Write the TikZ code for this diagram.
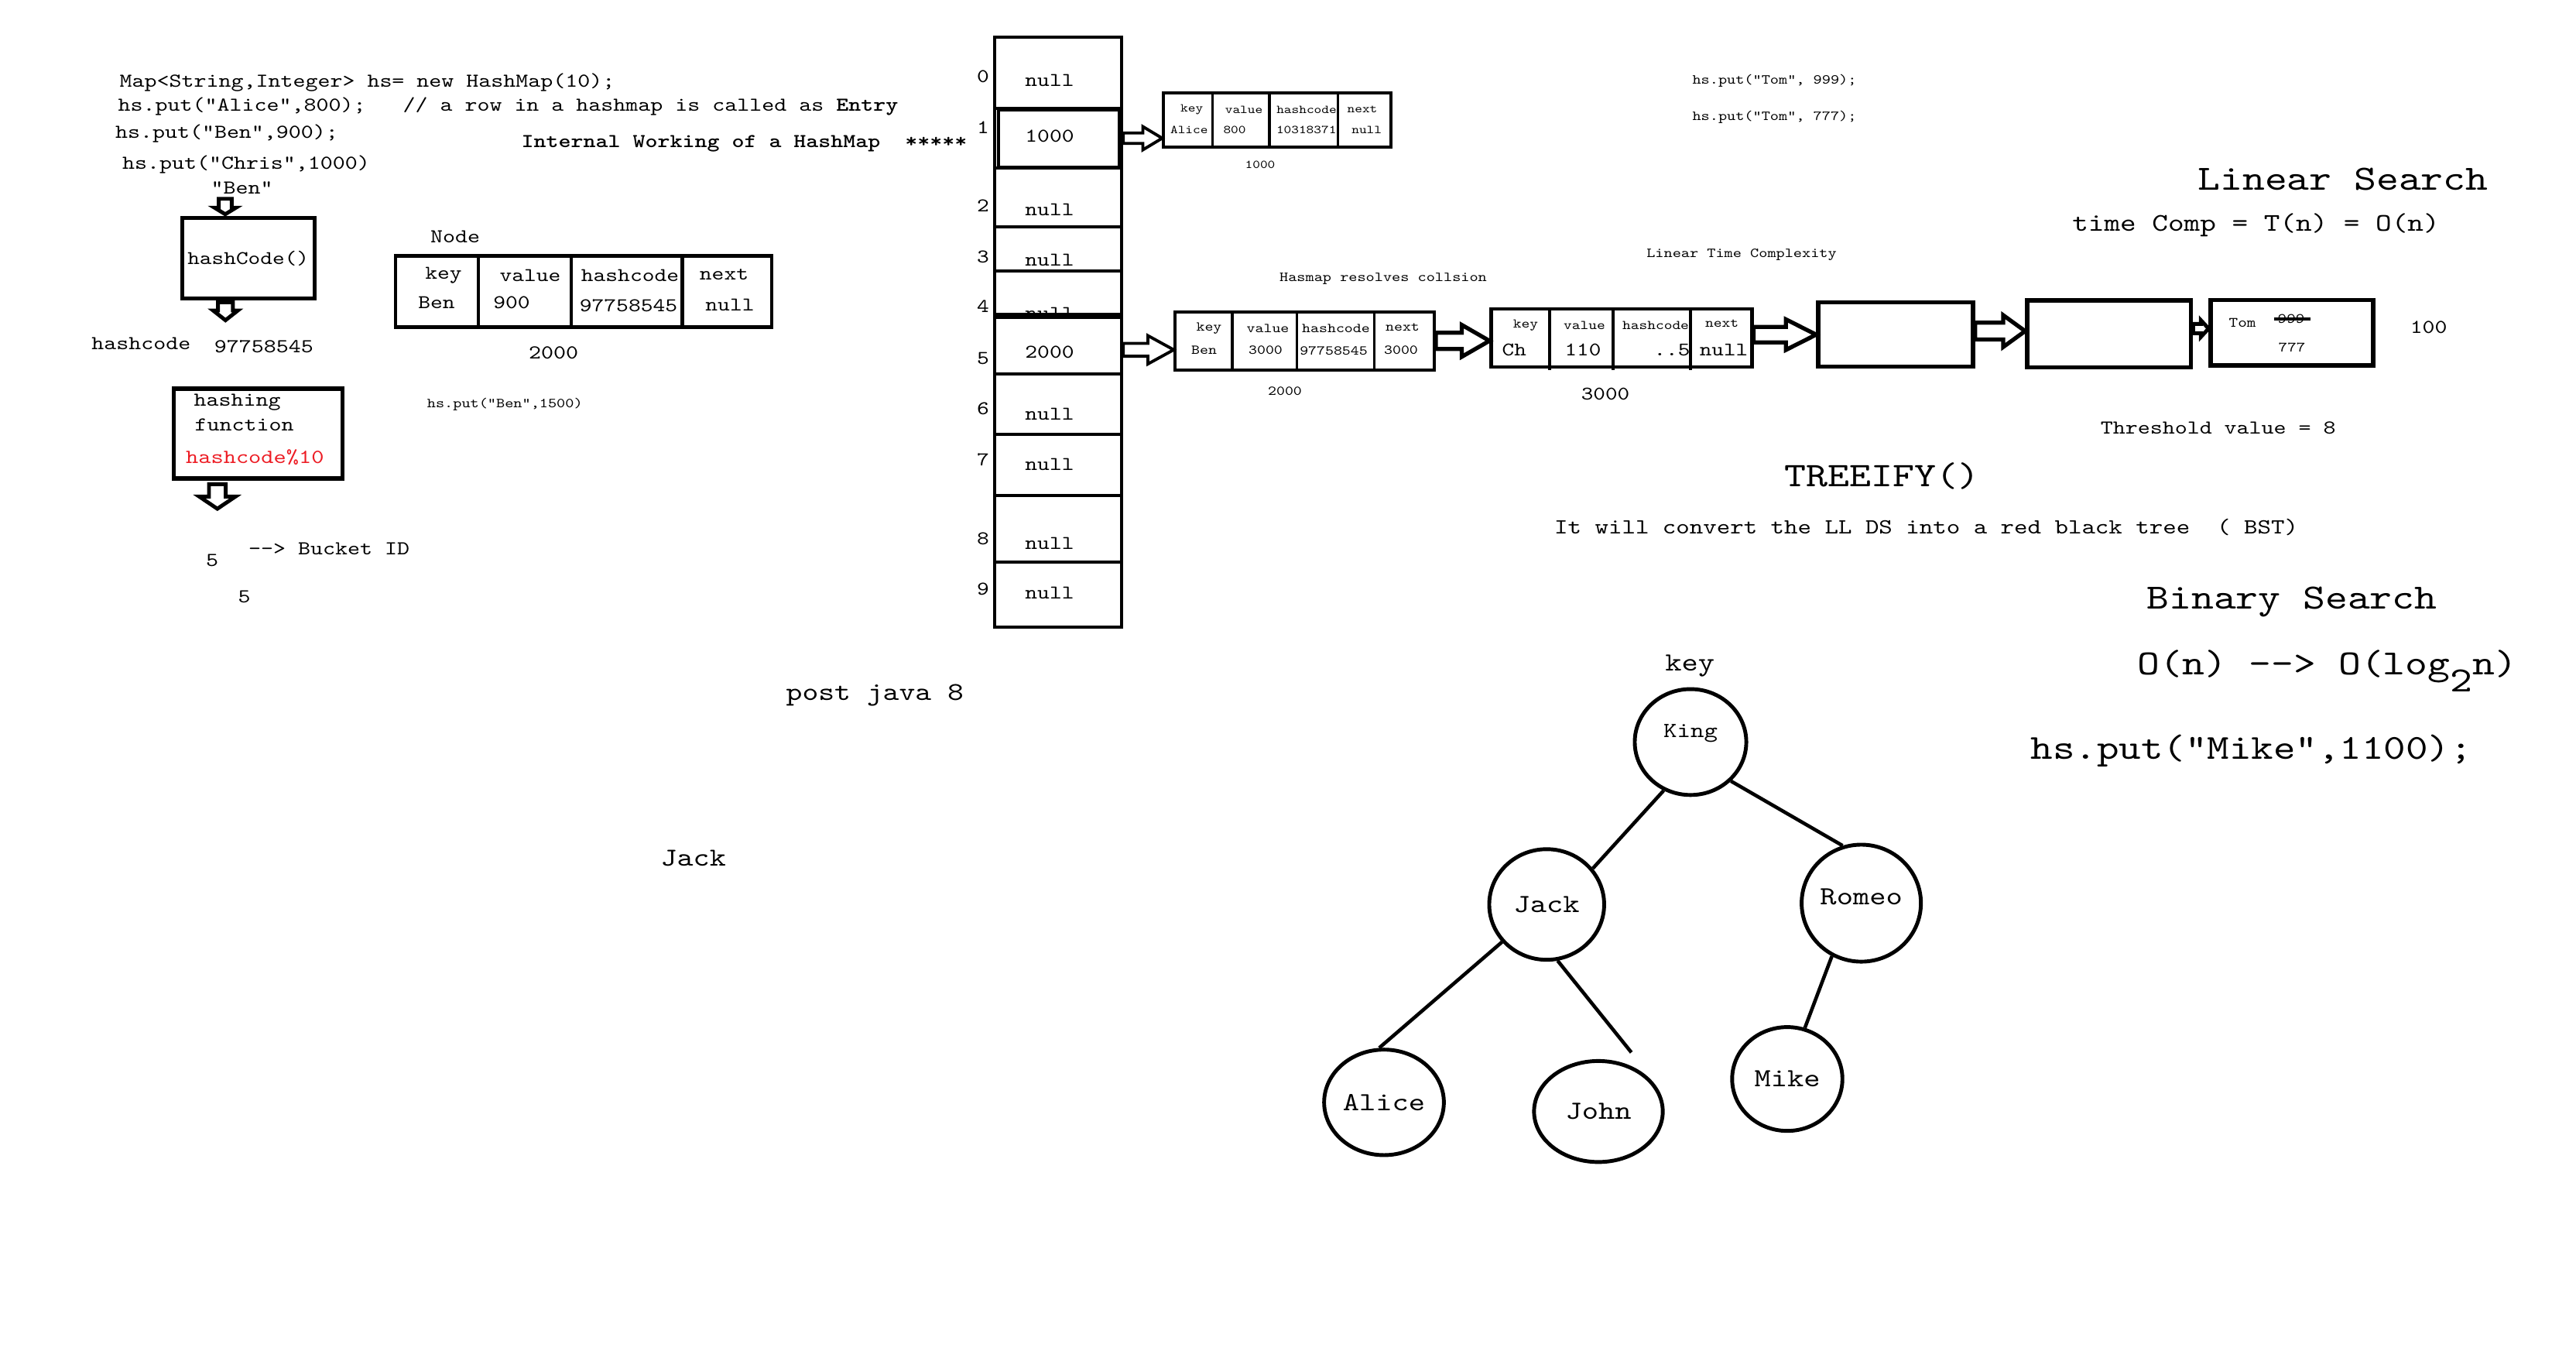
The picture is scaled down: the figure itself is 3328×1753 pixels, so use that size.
\documentclass[tikz,border=0pt]{standalone}
\usepackage{fontspec}
\setmonofont{lmmono10-regular.otf}[Scale=0.95,FakeStretch=1.2,BoldFont=lmmonolt10-bold.otf]
\usetikzlibrary{calc}
\usetikzlibrary{shapes.geometric}
\definecolor{hred}{RGB}{237,28,36}

\newcommand{\fsz}[1]{\fontsize{#1pt}{#1pt}\selectfont\ttfamily}
\newcommand{\rightfat}[6][1.5pt]{%
  \draw[line width=#1] let \p1=#2, \p2=#3 in
    (\x1,\y1+#4*0.2845pt) -- (\x2-#6*0.2845pt,\y1+#4*0.2845pt) -- (\x2-#6*0.2845pt,\y1+#5*0.2845pt)
    -- (\x2,\y1) -- (\x2-#6*0.2845pt,\y1-#5*0.2845pt) -- (\x2-#6*0.2845pt,\y1-#4*0.2845pt)
    -- (\x1,\y1-#4*0.2845pt) -- cycle;}
\newcommand{\downfat}[6][1.4pt]{%
  \draw[line width=#1] let \p1=#2, \p2=#3 in
    (\x1-#4*0.2845pt,\y1) -- (\x1-#4*0.2845pt,\y2+#6*0.2845pt) -- (\x1-#5*0.2845pt,\y2+#6*0.2845pt)
    -- (\x1,\y2) -- (\x1+#5*0.2845pt,\y2+#6*0.2845pt) -- (\x1+#4*0.2845pt,\y2+#6*0.2845pt)
    -- (\x1+#4*0.2845pt,\y1) -- cycle;}

\begin{document}
\begin{tikzpicture}[x=0.01cm,y=-0.01cm,
  every node/.style={inner sep=0pt,font=\fsz{7.6}},
  box/.style={draw,line width=1.3pt},
  tinytxt/.style={font=\fsz{4.6}},
  smalltxt/.style={font=\fsz{5.3}},
  bigtxt/.style={font=\fsz{13.7}},
  treenode/.style={ellipse,draw,line width=1.4pt,font=\fsz{10.1}},
  treeline/.style={line width=1.3pt}]
\fill[white] (0,0) rectangle (3328,1753);
\useasboundingbox (0,0) rectangle (3328,1753);

\node (code1) at (474.5,107) {Map<String,Integer> hs= new HashMap(10);};
\node (code2) at (656.5,137) {hs.put("Alice",800);\ \ \ // a row in a hashmap is called as \textbf{Entry}};
\node (code3) at (293,172) {hs.put("Ben",900);};
\node (code4) at (318,212) {hs.put("Chris",1000)};
\node (benq) at (312.7,243) {"Ben"};
\node[font=\fsz{7.6}\bfseries] (title) at (961.5,185) {Internal Working of a HashMap\ \ *****};

\node[box,line width=1.5pt,minimum width=1.71cm,minimum height=1.04cm,font=\fsz{7.45}] (hcbox) at (320.7,333.5) {hashCode()};
\node (hclab) at (182.3,444) {hashcode};
\node (hcval) at (340.8,447.5) {97758545};
\node[box,line width=1.5pt,minimum width=2.18cm,minimum height=1.16cm] (hfbox) at (333.5,560) {};
\node[anchor=west] (hf1) at (250,520) {hashing};
\node[anchor=west] (hf2) at (251,549) {function};
\node[anchor=west,text=hred,font=\fsz{7.7}] (hf3) at (239.5,590.4) {hashcode\%10};
\node (b5a) at (274,724) {5};
\node (bucketid) at (425.2,709) {-{}-> Bucket ID};
\node (b5b) at (315.6,771) {5};

\coordinate (d1a) at (291,256.7);
\coordinate (d1b) at (291,276.7);
\coordinate (d2a) at (291.3,390.4);
\coordinate (d2b) at (291.3,413.6);
\coordinate (d3a) at (280.8,625.4);
\coordinate (d3b) at (280.8,657.1);
\downfat{(d1a)}{(d1b)}{8.4}{13.75}{8.4}
\downfat{(d2a)}{(d2b)}{9.6}{16}{12.6}
\downfat{(d3a)}{(d3b)}{10.8}{23.3}{15.7}

\node (nodelab) at (588,306) {Node};
\node[box,minimum width=4.854cm,minimum height=0.92cm] (ben0) at (754,376.5) {};
\foreach \xx in {617.9,737.8,881.2}
  \draw[line width=1.3pt] (\xx,330.4) -- (\xx,425);
\foreach \t/\xx/\yy [count=\k] in {key/573/356,Ben/564/391,value/685/356,900/661/391,hashcode/814/356,97758545/812/395,next/935.5/355,null/943/394}
  \node[font=\fsz{7.5}] (nd\k) at (\xx,\yy) {\t};
\node (addr0) at (715,456) {2000};
\node[smalltxt] (put1500) at (652.3,522.5) {hs.put("Ben",1500)};

\foreach \i/\a/\b/\ty/\ly/\t in {0/48/140/104/99/null,1/140/217/176/165/1000,2/217/293/271/266/null,3/293/350/336/332/null,4/350/410/405/396/null,5/410/483/455/463/2000,6/483/561/535/528/null,7/561/640/600/594/null,8/640/726/702/696/null,9/726/810/766/761/null}{
  \node[box,fill=white,line width=1.2pt,minimum width=1.64cm,minimum height=(\b-\a)*0.01cm] (r\i) at (1367,{(\a+\b)/2}) {};
  \node[font=\fsz{7.5}] (v\i) at (1356,\ty) {\t};
  \node[font=\fsz{7.5}] (n\i) at (1270,\ly) {\i};
}
\draw[line width=1.2pt] (1290,142) rectangle (1446,216);
\draw[line width=2pt] (r5.north west) -- (r5.north east);

\node[box,line width=1pt,minimum width=2.934cm,minimum height=0.70cm] (alice) at (1650,155) {};
\foreach \xx in {1566.7,1640,1728.3}
  \draw[line width=1pt] (\xx,120) -- (\xx,190);
\foreach \t/\xx/\yy [count=\k] in {key/1539.7/142,Alice/1536.3/168,value/1607/142,800/1595/168,hashcode/1688/142,10318371/1687.7/168,next/1760/141,null/1765.7/168}
  \node[tinytxt] (na\k) at (\xx,\yy) {\t};
\node[tinytxt] (addr1) at (1628,213) {1000};

\node[smalltxt] (collision) at (1787,360) {Hasmap resolves collsion};
\node[box,line width=1.1pt,minimum width=3.346cm,minimum height=0.75cm] (ben) at (1685.7,440.2) {};
\foreach \xx in {1591.8,1675.5,1775.5}
  \draw[line width=1.1pt] (\xx,402.7) -- (\xx,480);
\foreach \t/\xx/\yy [count=\k] in {key/1562/424,Ben/1555.6/452,value/1638/424,3000/1635/452,hashcode/1726/424,97758545/1723/453,next/1812/423,3000/1810/452}
  \node[font=\fsz{5.2}] (nb\k) at (\xx,\yy) {\t};
\node[font=\fsz{5.2}] (addr2) at (1660,505) {2000};

\node[box,line width=1.2pt,minimum width=3.368cm,minimum height=0.75cm] (ch) at (2094.9,436.5) {};
\foreach \xx in {2002,2083.7,2183.7}
  \draw[line width=1.2pt] (\xx,399) -- (\xx,478);
\foreach \t/\xx/\yy [count=\k] in {key/1971/420,value/2047/420,hashcode/2139/420,next/2224.5/418}
  \node[font=\fsz{5.1}] (nc\k) at (\xx,\yy) {\t};
\node[anchor=west,font=\fsz{7.4}] (chk) at (1940,452) {Ch};
\foreach \t/\xx/\yy [count=\k] in {110/2045/452,..5/2160/452,null/2227/452}
  \node[font=\fsz{7.4}] (nv\k) at (\xx,\yy) {\t};
\node[font=\fsz{7.4}] (addr3) at (2074,509) {3000};

\node[box,line width=1.5pt,minimum width=2cm,minimum height=0.83cm] (e1) at (2449,432.2) {};
\node[box,line width=1.5pt,minimum width=2.116cm,minimum height=0.867cm] (e2) at (2724.8,431.4) {};
\node[box,line width=1.5pt,minimum width=2.1cm,minimum height=0.847cm] (tom) at (2961,429.7) {};
\node[font=\fsz{5.5}] (tomk) at (2897,417) {Tom};
\node[font=\fsz{5.5}] (tom999) at (2960,412) {999};
\draw[line width=1.3pt] ([xshift=-1pt]tom999.west) -- ([xshift=2pt]tom999.east);
\node[font=\fsz{5.5}] (tom777) at (2961,449) {777};
\node[font=\fsz{7.55}] (hundred) at (3137.6,422.5) {100};

\rightfat[1.1pt]{(r1.east)}{(alice.west)}{6.7}{15}{25}
\rightfat[1.1pt]{([yshift=-1.5pt]r5.east)}{(ben.west)}{8.3}{18.3}{33.4}
\rightfat{(ben.east)}{(ch.west)}{10.5}{20.5}{35.7}
\rightfat{(ch.east |- e1.west)}{(e1.west)}{10}{19.7}{39}
\rightfat{([yshift=1.3pt]e1.east)}{(e2.west)}{10.8}{20.5}{28.3}
\rightfat[1.4pt]{([yshift=2pt]e2.east)}{(tom.west)}{6}{10.8}{10}

\node[smalltxt] (tomput1) at (2292.5,104) {hs.put("Tom", 999);};
\node[smalltxt] (tomput2) at (2292.5,151) {hs.put("Tom", 777);};
\node[smalltxt] (lintime) at (2250,329) {Linear Time Complexity};
\node[bigtxt] (linsearch) at (3027,231) {Linear Search};
\node[font=\fsz{9.8}] (timecomp) at (2914.5,291) {time Comp = T(n) = O(n)};
\node (thresh) at (2865.7,553) {Threshold value = 8};
\node[font=\fsz{13.3}] (treeify) at (2431,615) {TREEIFY()};
\node[font=\fsz{8.3}] (convert) at (2488.6,681) {It will convert the LL DS into a red black tree\ \ ( BST)};
\node[bigtxt] (binsearch) at (2961,777) {Binary Search};
\node[bigtxt,anchor=base west] (bigo) at (2761,871) {O(n) -{}-> O(log\raisebox{-0.5em}{2}n)};
\node[font=\fsz{13.55}] (mikeput) at (2908.7,970) {hs.put("Mike",1100);};
\node[font=\fsz{9.9}] (post8) at (1130.3,898) {post java 8};
\node[font=\fsz{10}] (jackfree) at (895.7,1108) {Jack};

\node[font=\fsz{10.1}] (keylab) at (2183.3,860) {key};
\node[treenode,font=\fsz{8.3},minimum width=1.44cm,minimum height=1.367cm] (king) at (2184,958.4) {\raisebox{8pt}{King}};
\node[treenode,minimum width=1.484cm,minimum height=1.428cm] (jack) at (1998.2,1168.2) {Jack};
\node[treenode,minimum width=1.54cm,minimum height=1.51cm] (romeo) at (2404.6,1166.5) {\raisebox{5pt}{Romeo}};
\node[treenode,minimum width=1.546cm,minimum height=1.362cm] (alicet) at (1788,1423.8) {Alice};
\node[treenode,minimum width=1.662cm,minimum height=1.304cm] (john) at (2065,1435.6) {John};
\node[treenode,minimum width=1.424cm,minimum height=1.34cm] (mike) at (2309,1393.6) {Mike};
\coordinate (johntop) at (2107.6,1359.3);
\draw[treeline] (king.241.8) -- (jack.38.4);
\draw[treeline] (king.316.5) -- (romeo.108.7);
\draw[treeline] (jack.220.1) -- (alicet.95.9);
\draw[treeline] (jack.281.2) -- (johntop);
\draw[treeline] (romeo.241.5) -- (mike.71.5);
\end{tikzpicture}
\end{document}
